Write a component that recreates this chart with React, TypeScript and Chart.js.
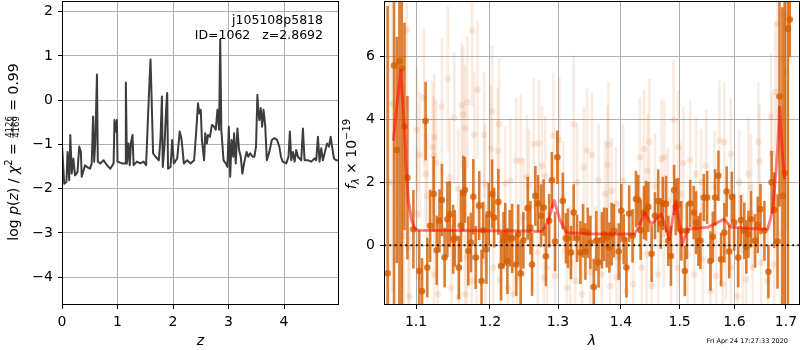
import React, { useEffect, useRef } from 'react';
import { Chart, registerables } from 'chart.js';

Chart.register(...registerables);

const FAM = '"DejaVu Sans", sans-serif';
Chart.defaults.font.family = FAM;

// ---------------- left panel: log p(z) ----------------
const Z_GRID = [
  0, 0.04, 0.08, 0.10, 0.13, 0.15, 0.175, 0.205, 0.235, 0.28,
  0.31, 0.34, 0.355, 0.415, 0.445, 0.505, 0.535, 0.56, 0.58, 0.60,
  0.63, 0.645, 0.69, 0.75, 0.81, 0.87, 0.93, 0.945, 0.97, 0.99,
  1.00, 1.08, 1.135, 1.15, 1.17, 1.20, 1.22, 1.245, 1.27, 1.29,
  1.35, 1.41, 1.47, 1.515, 1.545, 1.575, 1.595, 1.625, 1.64, 1.685,
  1.745, 1.775, 1.80, 1.815, 1.845, 1.875, 1.895, 1.91, 1.955, 1.985,
  2.015, 2.075, 2.12, 2.15, 2.17, 2.195, 2.255, 2.315, 2.38, 2.415,
  2.45, 2.475, 2.50, 2.52, 2.56, 2.58, 2.61, 2.63, 2.665, 2.70,
  2.74, 2.77, 2.80, 2.83, 2.85, 2.87, 2.91, 2.95, 2.98, 3.005,
  3.03, 3.055, 3.085, 3.10, 3.13, 3.16, 3.19, 3.22, 3.25, 3.28,
  3.325, 3.355, 3.39, 3.435, 3.465, 3.495, 3.52, 3.535, 3.555, 3.58,
  3.605, 3.63, 3.66, 3.69, 3.735, 3.78, 3.825, 3.875, 3.915, 3.945,
  3.975, 4.04, 4.08, 4.105, 4.13, 4.16, 4.19, 4.22, 4.25, 4.28,
  4.31, 4.34, 4.37, 4.43, 4.49, 4.55, 4.58, 4.61, 4.64, 4.67,
  4.70, 4.745, 4.775, 4.81, 4.84, 4.87, 4.90, 4.94, 4.99,
];
const LOG_PZ = [
  -1.02, -1.89, -1.85, -1.17, -1.81, -0.79, -1.66, -1.32, -1.70, -1.62,
  -1.05, -1.17, -1.73, -1.47, -1.51, -1.55, -1.43, -0.37, -1.39, -0.94,
  0.58, -1.39, -1.43, -1.36, -1.47, -1.55, -1.43, -0.45, -0.71, -0.45,
  -1.39, -1.43, -1.43, 0.40, -1.43, -0.98, -1.47, -0.94, -0.79, -1.47,
  -1.39, -1.43, -1.39, -1.47, -0.52, 0.39, 0.92, -0.45, -1.20, -1.28,
  -1.36, -0.86, 0.08, -1.51, -1.05, -0.22, 0.16, -1.55, -1.51, -0.90,
  -1.43, -1.32, -0.71, -0.86, -1.09, -1.43, -1.36, -1.43, -1.36, -0.75,
  -0.07, -0.30, -0.22, -0.90, -1.36, -0.75, -0.98, -0.79, -0.83, -0.56,
  -0.60, -0.67, -0.22, -0.67, 1.37, -0.67, -1.36, -1.43, -1.51, -0.60,
  -1.73, -0.90, -1.28, -0.75, -1.43, -0.64, -1.13, -1.28, -1.66, -1.43,
  -1.17, -1.28, -1.20, -1.28, -1.28, -1.05, 0.12, -0.22, -0.45, -0.18,
  -0.60, -0.22, -0.56, -1.36, -1.17, -0.90, -0.86, -0.90, -1.05, -1.28,
  -1.39, -1.43, -1.28, -0.71, -1.36, -1.17, -1.39, -1.13, -1.28, -1.32,
  -1.36, -0.64, -1.36, -1.36, -1.39, -1.32, -1.36, -0.83, -1.39, -1.09,
  -1.36, -1.13, -0.98, -1.05, -0.83, -1.09, -1.32, -1.36, -1.36,
];
const PZ_XTICKS = [0, 1, 2, 3, 4];
const PZ_YTICKS = [-4, -3, -2, -1, 0, 1, 2];
const PZ_XLIM = [0, 4.99];
const PZ_YLIM = [-4.63, 2.24];
const TARGET_NAME = 'j105108p5818';
const TARGET_INFO = 'ID=1062   z=2.8692';

// ---------------- right panel: spectrum ----------------
const SPEC_XTICKS = [1.1, 1.2, 1.3, 1.4, 1.5, 1.6, 1.7];
const SPEC_YTICKS = [0, 2, 4, 6];
const SPEC_XLIM = [1.0593, 1.7283];
const SPEC_YLIM = [-1.9, 7.77];
const TIMESTAMP = 'Fri Apr 24 17:27:33 2020';

const DARK_WAVE = [
  1.0638, 1.0719, 1.0753, 1.0787, 1.0817, 1.0851, 1.0889, 1.0966, 1.1041, 1.1078,
  1.1124, 1.1147, 1.1184, 1.1230, 1.1271, 1.1308, 1.1340, 1.1376, 1.1413, 1.1445,
  1.1491, 1.1514, 1.1569, 1.1597, 1.1629, 1.1652, 1.1698, 1.1734, 1.1767, 1.1799,
  1.1849, 1.1881, 1.1904, 1.1950, 1.1982, 1.2030, 1.2059, 1.2119, 1.2158, 1.2193,
  1.2218, 1.2248, 1.2282, 1.2317, 1.2376, 1.2406, 1.2441, 1.2480, 1.2545, 1.2584,
  1.2609, 1.2658, 1.2698, 1.2743, 1.2782, 1.2817, 1.2866, 1.2906, 1.2955, 1.2990,
  1.3074, 1.3121, 1.3153, 1.3200, 1.3242, 1.3295, 1.3347, 1.3389, 1.3426, 1.3463,
  1.3505, 1.3558, 1.3600, 1.3636, 1.3689, 1.3726, 1.3768, 1.3810, 1.3847, 1.3884,
  1.3963, 1.4006, 1.4045, 1.4090, 1.4136, 1.4192, 1.4249, 1.4288, 1.4328, 1.4384,
  1.4418, 1.4458, 1.4514, 1.4571, 1.4627, 1.4672, 1.4706, 1.4763, 1.4802, 1.4848,
  1.4904, 1.4932, 1.4972, 1.5031, 1.5092, 1.5128, 1.5189, 1.5250, 1.5293, 1.5336,
  1.5372, 1.5433, 1.5494, 1.5555, 1.5598, 1.5640, 1.5701, 1.5750, 1.5811, 1.5854,
  1.5902, 1.5951, 1.5994, 1.6071, 1.6123, 1.6187, 1.6226, 1.6265, 1.6316, 1.6393,
  1.6445, 1.6497, 1.6574, 1.6652, 1.6716, 1.6768, 1.6832, 1.6871, 1.6929, 1.6974,
  1.7038, 1.7076,
];
const DARK_FLUX = [
  -0.89, 5.72, 3.03, 5.85, 5.62, 3.78, 2.15, 0.51, -0.82, -1.46,
  3.95, -0.71, 0.62, 1.63, -0.16, 0.78, 1.44, -0.39, 0.83, 0.99,
  0.19, 0.22, -0.71, 0.62, 1.65, 1.76, -0.18, 0.09, 1.54, -0.39,
  1.26, -1.14, 0.48, -0.13, 0.99, 1.63, 0.88, 1.38, -0.66, 0.16,
  0.35, -0.50, 0.22, 0.22, -0.61, 0.35, -0.90, 0.16, 1.18, 0.56,
  -0.61, 1.57, 1.33, 0.94, 1.20, -0.35, 0.78, 2.07, 0.12, 2.80,
  1.41, 0.22, 0.22, -0.23, 1.04, 0.22, -0.23, 0.46, -0.20, 0.40,
  0.09, -1.33, 0.14, -0.55, 0.16, 0.35, 0.24, -0.07, 0.35, 0.46,
  -0.20, 1.10, 0.19, -0.71, 1.01, 0.30, 1.47, 1.44, 0.48, 1.04,
  1.10, 1.22, -0.27, 0.94, 1.41, 0.69, 1.33, 1.31, 0.14, -0.34,
  1.76, 1.22, 1.29, 0.46, -0.82, 0.46, 1.33, 1.04, 0.72, 0.14,
  0.14, 1.52, 1.52, -0.50, 0.27, 1.52, 2.21, -0.45, 0.40, 1.71,
  -0.20, 1.54, 0.72, -0.39, 0.80, 0.46, -0.05, 0.35, 0.83, 0.14,
  0.65, 1.15, 0.46, -0.84, 2.00, 1.12, 0.12, 4.73, 1.57, 2.30,
  6.89, 7.18,
];
const DARK_ERR = [
  8.5, 8.0, 3.6, 8.2, 7.5, 3.3, 2.6, 1.25, 1.3, 1.05,
  1.25, 0.95, 1.15, 1.2, 1.1, 1.0, 1.15, 0.95, 1.2, 1.05,
  1.1, 0.9, 1.0, 1.15, 1.2, 1.05, 1.1, 0.95, 1.2, 1.0,
  1.1, 1.0, 0.9, 1.1, 1.0, 1.1, 0.95, 1.05, 1.1, 0.9,
  1.0, 1.05, 0.9, 1.1, 1.0, 0.95, 1.05, 0.9, 1.0, 0.85,
  1.0, 0.95, 0.9, 1.0, 0.9, 0.95, 0.85, 0.9, 0.95, 0.85,
  0.9, 0.8, 0.95, 0.85, 0.9, 0.75, 1.0, 0.85, 0.9, 0.8,
  0.85, 0.9, 0.95, 0.8, 0.9, 0.85, 0.95, 0.8, 1.0, 0.85,
  0.9, 0.85, 0.8, 0.95, 0.9, 0.85, 0.9, 0.8, 0.95, 0.85,
  0.95, 0.8, 0.9, 0.75, 1.0, 0.8, 0.85, 0.9, 0.8, 0.95,
  0.8, 0.9, 0.85, 0.95, 0.8, 0.9, 0.75, 0.85, 1.0, 0.8,
  0.9, 0.75, 0.85, 0.95, 0.8, 0.9, 0.8, 0.85, 0.95, 0.8,
  0.85, 0.8, 0.9, 0.95, 0.8, 0.9, 0.85, 0.75, 0.9, 0.85,
  0.9, 0.8, 0.95, 0.85, 1.0, 1.2, 1.5, 3.5, 6.0, 8.0,
  9.0, 1.2,
];

const FAINT_WAVE = [
  1.0660, 1.0700, 1.0830, 1.0838, 1.0880, 1.0902, 1.0915, 1.1009, 1.1012, 1.1046,
  1.1101, 1.1124, 1.1147, 1.1216, 1.1230, 1.1235, 1.1239, 1.1262, 1.1285, 1.1340,
  1.1420, 1.1445, 1.1468, 1.1505, 1.1560, 1.1565, 1.1606, 1.1629, 1.1652, 1.1655,
  1.1675, 1.1684, 1.1744, 1.1750, 1.1780, 1.1813, 1.1826, 1.1918, 1.1927, 1.1930,
  1.2010, 1.2030, 1.2045, 1.2109, 1.2129, 1.2144, 1.2218, 1.2257, 1.2291, 1.2332,
  1.2376, 1.2391, 1.2441, 1.2485, 1.2535, 1.2560, 1.2634, 1.2693, 1.2708, 1.2758,
  1.2785, 1.2807, 1.2832, 1.2931, 1.2955, 1.3021, 1.3084, 1.3137, 1.3190, 1.3242,
  1.3268, 1.3295, 1.3373, 1.3400, 1.3452, 1.3505, 1.3531, 1.3584, 1.3636, 1.3689,
  1.3742, 1.3779, 1.3795, 1.3821, 1.3847, 1.3916, 1.3926, 1.3979, 1.4034, 1.4090,
  1.4203, 1.4316, 1.4345, 1.4384, 1.4430, 1.4441, 1.4475, 1.4514, 1.4571, 1.4627,
  1.4684, 1.4723, 1.4734, 1.4791, 1.4848, 1.4893, 1.4960, 1.4972, 1.5018, 1.5067,
  1.5140, 1.5189, 1.5262, 1.5293, 1.5384, 1.5415, 1.5476, 1.5555, 1.5628, 1.5659,
  1.5719, 1.5780, 1.5811, 1.5842, 1.5933, 1.5936, 1.6058, 1.6090, 1.6155, 1.6219,
  1.6265, 1.6316, 1.6348, 1.6458, 1.6478, 1.6510, 1.6639, 1.6703, 1.6723, 1.6768,
  1.6787, 1.6832, 1.6897, 1.6961, 1.7000,
];
const FAINT_FLUX = [
  2.00, 4.50, 1.00, 0.30, 6.84, -0.07, -1.62, 3.67, 0.99, 2.88,
  4.69, 2.27, 1.57, 3.12, 2.85, -0.93, 3.44, 2.62, -1.56, 4.41,
  5.30, 2.16, -1.35, 4.05, 1.79, -1.67, 4.45, 4.16, 3.73, -1.56,
  -0.39, 4.55, -1.14, 6.84, 3.51, -0.39, 4.95, 3.51, 1.95, -0.50,
  3.06, 4.26, -0.71, 3.01, 3.86, -1.09, 1.97, -1.35, 2.05, -1.56,
  2.69, -1.03, 2.69, 0.88, 2.16, 1.89, 3.22, -0.23, 3.24, 2.53,
  -1.03, 2.21, -0.71, 3.49, -0.98, 3.35, 1.52, -1.35, -0.55, 3.84,
  -1.14, 2.00, -1.56, 2.48, 3.01, -0.87, 2.87, -0.48, 2.07, -0.93,
  1.63, 2.56, 3.20, -1.30, 1.73, 1.33, -1.03, -0.39, 2.05, -1.46,
  -1.24, 2.80, -0.71, 3.06, -0.29, 2.37, 3.29, -1.30, 1.86, -0.93,
  2.74, 0.35, 2.80, 1.41, -0.07, 3.99, -0.71, 3.12, 1.63, 2.61,
  -0.29, 2.71, -0.93, 2.27, 2.00, -0.45, 2.53, -1.46, 1.84, -0.98,
  3.33, -1.24, 3.28, -0.02, 2.90, -0.71, -1.62, 2.00, -0.13, -1.09,
  2.27, 1.84, -0.71, 3.28, 2.67, -0.55, -1.14, 4.10, 2.93, -0.61,
  4.87, 7.05, 0.35, 7.35, 5.50,
];
const FAINT_ERR = [
  6.0, 6.0, 5.0, 2.5, 2.5, 2.4, 2.2, 2.0, 2.1, 2.0,
  2.2, 1.9, 2.0, 2.1, 1.9, 2.0, 2.0, 2.0, 1.9, 2.2,
  2.3, 1.9, 2.0, 2.1, 1.9, 2.0, 2.0, 2.2, 2.0, 1.9,
  1.8, 2.1, 1.9, 2.4, 2.0, 1.8, 2.2, 2.0, 1.9, 1.8,
  2.0, 2.1, 1.9, 2.0, 2.1, 1.9, 1.8, 1.9, 2.0, 1.9,
  2.0, 1.8, 2.1, 1.9, 2.0, 1.8, 2.1, 1.8, 2.0, 1.9,
  1.8, 1.9, 1.8, 2.0, 1.9, 2.0, 1.8, 1.9, 1.8, 2.2,
  1.8, 1.9, 1.8, 1.9, 2.0, 1.8, 2.0, 1.7, 1.8, 1.8,
  1.7, 1.9, 2.0, 1.8, 1.7, 1.8, 1.7, 1.8, 1.8, 1.7,
  1.8, 1.9, 1.7, 1.9, 1.7, 1.8, 2.0, 1.8, 1.7, 1.8,
  1.9, 1.7, 1.8, 1.7, 1.8, 1.9, 1.7, 1.8, 1.7, 1.8,
  1.7, 1.9, 1.7, 1.8, 1.7, 1.8, 1.8, 1.7, 1.8, 1.7,
  1.9, 1.8, 1.9, 1.7, 1.8, 1.7, 1.8, 1.7, 1.8, 1.7,
  1.8, 1.7, 1.8, 1.9, 1.8, 1.7, 1.8, 2.0, 1.9, 1.8,
  2.2, 3.0, 4.0, 5.0, 5.0,
];

const MODEL_WAVE = [
  1.0710, 1.0753, 1.0804, 1.0847, 1.0872, 1.0902, 1.0945, 1.0987, 1.1032, 1.1500,
  1.2000, 1.2500, 1.2752, 1.2850, 1.2941, 1.3030, 1.3131, 1.3500, 1.4000, 1.4226,
  1.4300, 1.4396, 1.4509, 1.4678, 1.4819, 1.4932, 1.5049, 1.5140, 1.5500, 1.5811,
  1.5933, 1.6300, 1.6639, 1.6736, 1.6832, 1.6871, 1.6929, 1.6974,
];
const MODEL_FLUX = [
  3.33, 4.40, 5.56, 3.86, 2.48, 1.41, 0.78, 0.51, 0.48, 0.47,
  0.46, 0.45, 0.44, 0.75, 1.42, 0.80, 0.40, 0.37, 0.36, 0.36,
  0.60, 1.04, 0.67, 0.99, 0.19, 1.41, 0.03, 0.51, 0.57, 0.83,
  0.58, 0.53, 0.51, 1.10, 3.00, 4.40, 2.90, 2.10,
];

// ---------------- helpers ----------------
const MINUS = '\u2212';
const fmtInt = (v: number) => (v < 0 ? MINUS + Math.abs(v) : String(v));
const fmtOne = (v: number) => v.toFixed(1);

function makeScale(type: string, pos: string, lim: number[], ticksArr: number[], fmt: (v: number) => string, size: number) {
  return {
    type,
    position: pos,
    min: lim[0],
    max: lim[1],
    bounds: 'data',
    afterBuildTicks: (s: any) => {
      s.ticks = ticksArr.map((v) => ({ value: v }));
    },
    afterFit: (s: any) => {
      if (pos === 'bottom') s.height = size;
      else s.width = size;
      s.paddingTop = 0;
      s.paddingBottom = 0;
      s.paddingLeft = 0;
      s.paddingRight = 0;
    },
    ticks: {
      color: '#000',
      font: { family: FAM, size: 14 },
      padding: 5,
      autoSkip: false,
      maxRotation: 0,
      minRotation: 0,
      callback: (v: any) => fmt(Number(v)),
    },
    grid: { color: '#b0b0b0', lineWidth: 1, drawTicks: true, tickLength: 4, tickColor: '#000', tickWidth: 1 },
    border: { display: false },
    title: { display: false },
  };
}

type Seg = { t?: string; font: string; dy?: number; frac?: [string, string] };

function drawRich(ctx: CanvasRenderingContext2D, segs: Seg[], cx: number, cy: number) {
  ctx.save();
  ctx.translate(cx, cy);
  ctx.rotate(-Math.PI / 2);
  ctx.textBaseline = 'alphabetic';
  ctx.fillStyle = '#000';
  const widths = segs.map((s) => {
    ctx.font = s.font;
    if (s.frac) return Math.max(ctx.measureText(s.frac[0]).width, ctx.measureText(s.frac[1]).width) + 2;
    return ctx.measureText(s.t || '').width;
  });
  const total = widths.reduce((a, b) => a + b, 0);
  let x = -total / 2;
  segs.forEach((s, i) => {
    ctx.font = s.font;
    if (s.frac) {
      ctx.textAlign = 'center';
      const mid = x + widths[i] / 2;
      ctx.fillText(s.frac[0], mid, -5.8);
      ctx.fillText(s.frac[1], mid, 1.5);
      ctx.fillRect(x + 1, -4.9, widths[i] - 2, 0.8);
    } else {
      ctx.textAlign = 'left';
      ctx.fillText(s.t || '', x, s.dy || 0);
    }
    x += widths[i];
  });
  ctx.restore();
}

const framePlugin = {
  id: 'frame',
  afterDatasetsDraw(chart: any) {
    const { ctx, chartArea: a } = chart;
    ctx.save();
    ctx.strokeStyle = '#000';
    ctx.lineWidth = 1;
    ctx.strokeRect(Math.round(a.left) + 0.5, Math.round(a.top) + 0.5, Math.round(a.right - a.left) - 1, Math.round(a.bottom - a.top) - 1);
    ctx.restore();
  },
};

const errorBarPlugin = {
  id: 'errbars',
  beforeDatasetDraw(chart: any, args: any) {
    const ds = chart.data.datasets[args.index];
    if (!ds.yErr) return;
    const { ctx, chartArea: a, scales } = chart;
    const xs = scales.x;
    const ys = scales.y;
    ctx.save();
    ctx.beginPath();
    ctx.rect(a.left, a.top, a.right - a.left, a.bottom - a.top);
    ctx.clip();
    ctx.strokeStyle = ds.errColor;
    ctx.lineWidth = ds.errWidth;
    ctx.lineCap = 'butt';
    ds.data.forEach((p: any, i: number) => {
      const px = xs.getPixelForValue(p.x);
      const y0 = ys.getPixelForValue(p.y - ds.yErr[i]);
      const y1 = ys.getPixelForValue(p.y + ds.yErr[i]);
      ctx.beginPath();
      ctx.moveTo(px, y0);
      ctx.lineTo(px, y1);
      ctx.stroke();
    });
    ctx.restore();
  },
};

const R = (sz: number) => `${sz}px ${FAM}`;
const I = (sz: number) => `italic ${sz}px ${FAM}`;

const leftTextPlugin = {
  id: 'leftText',
  afterDraw(chart: any) {
    const { ctx, chartArea: a } = chart;
    ctx.save();
    ctx.fillStyle = '#000';
    ctx.font = R(12.5);
    ctx.textAlign = 'right';
    ctx.textBaseline = 'alphabetic';
    ctx.fillText(TARGET_NAME, 323, 24);
    ctx.fillText(TARGET_INFO, 323, 38.5);
    ctx.font = I(14);
    ctx.textAlign = 'center';
    ctx.fillText('z', (a.left + a.right) / 2, 345);
    ctx.restore();
    drawRich(ctx, [
      { t: 'log ', font: R(14) },
      { t: 'p', font: I(14) },
      { t: '(', font: R(14) },
      { t: 'z', font: I(14) },
      { t: ') / ', font: R(14) },
      { t: '\u03c7', font: I(14) },
      { t: '2', font: R(10), dy: -6 },
      { t: ' = ', font: R(14) },
      { font: R(8.5), frac: ['4126', '4169'] },
      { t: ' = 0.99', font: R(14) },
    ], 17.5, 152);
  },
};

const rightTextPlugin = {
  id: 'rightText',
  afterDraw(chart: any) {
    const { ctx, chartArea: a } = chart;
    ctx.save();
    ctx.fillStyle = '#000';
    ctx.font = I(14);
    ctx.textAlign = 'center';
    ctx.textBaseline = 'alphabetic';
    ctx.fillText('\u03bb', (a.left + a.right) / 2, 345);
    ctx.font = R(6.5);
    ctx.textAlign = 'right';
    ctx.fillText(TIMESTAMP, 448, 342.5);
    ctx.restore();
    drawRich(ctx, [
      { t: 'f', font: I(14) },
      { t: '\u03bb', font: I(10), dy: 3 },
      { t: ' \u00d7 10', font: R(14) },
      { t: MINUS + '19', font: R(10), dy: -6 },
    ], 15.5, 154);
  },
};

const baseOptions = {
  animation: false,
  responsive: false,
  devicePixelRatio: 1,
  events: [],
  plugins: { legend: { display: false }, tooltip: { enabled: false } },
};

export default function App() {
  const leftRef = useRef<HTMLCanvasElement>(null);
  const rightRef = useRef<HTMLCanvasElement>(null);

  useEffect(() => {
    const left = new Chart(leftRef.current as HTMLCanvasElement, {
      type: 'scatter',
      data: {
        datasets: [
          {
            data: Z_GRID.map((z, i) => ({ x: z, y: LOG_PZ[i] })),
            showLine: true,
            borderColor: '#3d3d3d',
            borderWidth: 2,
            borderJoinStyle: 'round',
            pointRadius: 0,
            tension: 0,
            clip: 0,
          } as any,
        ],
      },
      options: {
        ...baseOptions,
        layout: { autoPadding: false, padding: { top: 1, right: 1, left: 0, bottom: 0 } },
        scales: {
          x: makeScale('linear', 'bottom', PZ_XLIM, PZ_XTICKS, fmtInt, 45),
          y: makeScale('linear', 'left', PZ_YLIM, PZ_YTICKS, fmtInt, 62),
        },
      } as any,
      plugins: [framePlugin, leftTextPlugin],
    });

    const right = new Chart(rightRef.current as HTMLCanvasElement, {
      type: 'scatter',
      data: {
        datasets: [
          {
            data: [{ x: SPEC_XLIM[0], y: 0 }, { x: SPEC_XLIM[1], y: 0 }],
            showLine: true,
            borderColor: 'rgba(0,0,0,0.85)',
            borderWidth: 2,
            borderDash: [2, 3.3],
            pointRadius: 0,
            order: 0,
            clip: 0,
          },
          {
            data: MODEL_WAVE.map((w, i) => ({ x: w, y: MODEL_FLUX[i] })),
            showLine: true,
            borderColor: 'rgba(255,0,0,0.5)',
            borderWidth: 3,
            borderJoinStyle: 'round',
            pointRadius: 0,
            order: 1,
            clip: 0,
          },
          {
            data: DARK_WAVE.map((w, i) => ({ x: w, y: DARK_FLUX[i] })),
            pointRadius: 3.3,
            pointBackgroundColor: 'rgba(213,94,0,0.8)',
            pointBorderWidth: 0,
            order: 2,
            clip: 0,
            yErr: DARK_ERR,
            errColor: 'rgba(213,94,0,0.8)',
            errWidth: 2.6,
          },
          {
            data: FAINT_WAVE.map((w, i) => ({ x: w, y: FAINT_FLUX[i] })),
            pointRadius: 3.3,
            pointBackgroundColor: 'rgba(213,94,0,0.13)',
            pointBorderWidth: 0,
            order: 3,
            clip: 0,
            yErr: FAINT_ERR,
            errColor: 'rgba(213,94,0,0.12)',
            errWidth: 2.6,
          },
        ] as any,
      },
      options: {
        ...baseOptions,
        layout: { autoPadding: false, padding: { top: 1, right: 0, left: 0, bottom: 0 } },
        scales: {
          x: makeScale('logarithmic', 'bottom', SPEC_XLIM, SPEC_XTICKS, fmtOne, 45),
          y: makeScale('linear', 'left', SPEC_YLIM, SPEC_YTICKS, fmtInt, 44),
        },
      } as any,
      plugins: [errorBarPlugin, framePlugin, rightTextPlugin],
    });

    return () => {
      left.destroy();
      right.destroy();
    };
  }, []);

  return (
    <div style={{ position: 'absolute', left: 0, top: 0, width: 800, height: 350, background: '#fff' }}>
      <canvas ref={leftRef} width={340} height={350} style={{ position: 'absolute', left: 0, top: 0, width: 340, height: 350 }} />
      <canvas ref={rightRef} width={460} height={350} style={{ position: 'absolute', left: 340, top: 0, width: 460, height: 350 }} />
    </div>
  );
}
